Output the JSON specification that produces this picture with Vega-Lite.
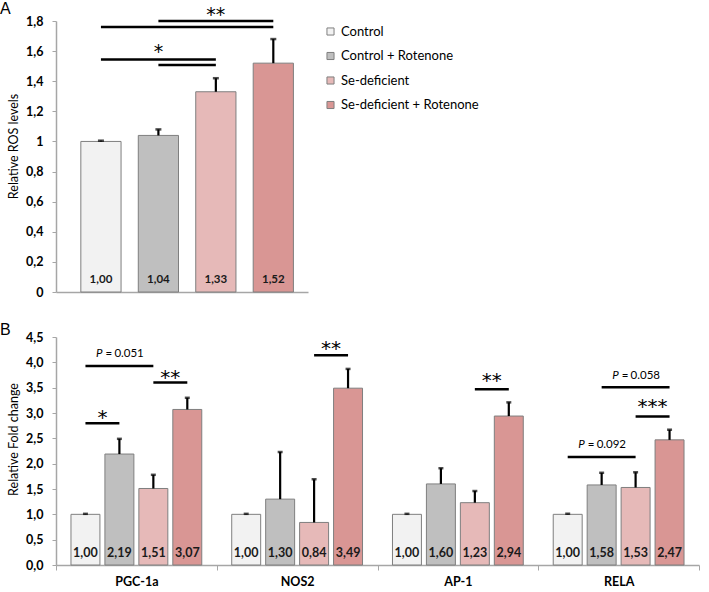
{
  "$schema": "https://vega.github.io/schema/vega-lite/v6.json",
  "padding": {"left": 0, "top": 0, "right": 2, "bottom": 0},
  "spacing": 23,
  "config": {
    "locale": {"number": {"decimal": ",", "thousands": ".", "grouping": [3], "currency": ["", " €"]}},
    "view": {"stroke": null},
    "font": "Lato"
  },
  "datasets": {
    "ros": [
      {"condition": "Control", "value": 1.00, "upper": 1.005},
      {"condition": "Control + Rotenone", "value": 1.04, "upper": 1.08},
      {"condition": "Se-deficient", "value": 1.33, "upper": 1.42},
      {"condition": "Se-deficient + Rotenone", "value": 1.52, "upper": 1.68}
    ],
    "rosSig": [
      {"id": "a1", "condition": "Control", "y": 1.76},
      {"id": "a1", "condition": "Se-deficient + Rotenone", "y": 1.76},
      {"id": "a2", "condition": "Control + Rotenone", "y": 1.80},
      {"id": "a2", "condition": "Se-deficient + Rotenone", "y": 1.80},
      {"id": "a3", "condition": "Control", "y": 1.545},
      {"id": "a3", "condition": "Se-deficient", "y": 1.545},
      {"id": "a4", "condition": "Control + Rotenone", "y": 1.507},
      {"id": "a4", "condition": "Se-deficient", "y": 1.507}
    ],
    "rosStars": [
      {"condition": "Se-deficient", "label": "**", "y": 1.84},
      {"condition": "Control + Rotenone", "label": "*", "y": 1.595}
    ],
    "genes": [
      {"gene": "PGC-1a", "condition": "Control", "value": 1.00, "upper": 1.01},
      {"gene": "PGC-1a", "condition": "Control + Rotenone", "value": 2.19, "upper": 2.49},
      {"gene": "PGC-1a", "condition": "Se-deficient", "value": 1.51, "upper": 1.78},
      {"gene": "PGC-1a", "condition": "Se-deficient + Rotenone", "value": 3.07, "upper": 3.30},
      {"gene": "NOS2", "condition": "Control", "value": 1.00, "upper": 1.01},
      {"gene": "NOS2", "condition": "Control + Rotenone", "value": 1.30, "upper": 2.23},
      {"gene": "NOS2", "condition": "Se-deficient", "value": 0.84, "upper": 1.69},
      {"gene": "NOS2", "condition": "Se-deficient + Rotenone", "value": 3.49, "upper": 3.87},
      {"gene": "AP-1", "condition": "Control", "value": 1.00, "upper": 1.01},
      {"gene": "AP-1", "condition": "Control + Rotenone", "value": 1.60, "upper": 1.91},
      {"gene": "AP-1", "condition": "Se-deficient", "value": 1.23, "upper": 1.46},
      {"gene": "AP-1", "condition": "Se-deficient + Rotenone", "value": 2.94, "upper": 3.21},
      {"gene": "RELA", "condition": "Control", "value": 1.00, "upper": 1.01},
      {"gene": "RELA", "condition": "Control + Rotenone", "value": 1.58, "upper": 1.82},
      {"gene": "RELA", "condition": "Se-deficient", "value": 1.53, "upper": 1.83},
      {"gene": "RELA", "condition": "Se-deficient + Rotenone", "value": 2.47, "upper": 2.67}
    ],
    "geneSig": [
      {"id": "b1", "gene": "PGC-1a", "condition": "Control", "y": 2.80},
      {"id": "b1", "gene": "PGC-1a", "condition": "Control + Rotenone", "y": 2.80},
      {"id": "b2", "gene": "PGC-1a", "condition": "Control", "y": 3.93},
      {"id": "b2", "gene": "PGC-1a", "condition": "Se-deficient", "y": 3.93},
      {"id": "b3", "gene": "PGC-1a", "condition": "Se-deficient", "y": 3.60},
      {"id": "b3", "gene": "PGC-1a", "condition": "Se-deficient + Rotenone", "y": 3.60},
      {"id": "b4", "gene": "NOS2", "condition": "Se-deficient", "y": 4.14},
      {"id": "b4", "gene": "NOS2", "condition": "Se-deficient + Rotenone", "y": 4.14},
      {"id": "b5", "gene": "AP-1", "condition": "Se-deficient", "y": 3.47},
      {"id": "b5", "gene": "AP-1", "condition": "Se-deficient + Rotenone", "y": 3.47},
      {"id": "b6", "gene": "RELA", "condition": "Control", "y": 2.13},
      {"id": "b6", "gene": "RELA", "condition": "Se-deficient", "y": 2.13},
      {"id": "b7", "gene": "RELA", "condition": "Control + Rotenone", "y": 3.51},
      {"id": "b7", "gene": "RELA", "condition": "Se-deficient + Rotenone", "y": 3.51},
      {"id": "b8", "gene": "RELA", "condition": "Se-deficient", "y": 2.93},
      {"id": "b8", "gene": "RELA", "condition": "Se-deficient + Rotenone", "y": 2.93}
    ],
    "geneP": [
      {"gene": "PGC-1a", "condition": "Control + Rotenone", "p": "0.051", "y": 4.16},
      {"gene": "RELA", "condition": "Control + Rotenone", "p": "0.092", "y": 2.37},
      {"gene": "RELA", "condition": "Se-deficient", "p": "0.058", "y": 3.73}
    ],
    "geneStars": [
      {"gene": "PGC-1a", "condition": "Control", "label": "*", "y": 2.90},
      {"gene": "PGC-1a", "condition": "Se-deficient", "label": "**", "y": 3.69},
      {"gene": "NOS2", "condition": "Se-deficient", "label": "**", "y": 4.26},
      {"gene": "AP-1", "condition": "Se-deficient", "label": "**", "y": 3.63},
      {"gene": "RELA", "condition": "Se-deficient", "label": "***", "y": 3.12}
    ]
  },
  "vconcat": [
    {
      "width": 252,
      "height": 271,
      "title": {"text": "A", "anchor": "start", "frame": "group", "dx": -56, "offset": -11, "fontSize": 16, "font": "Liberation Sans", "fontWeight": "normal", "color": "#000"},
      "encoding": {
        "x": {
          "field": "condition", "type": "nominal",
          "scale": {"domain": ["Control", "Control + Rotenone", "Se-deficient", "Se-deficient + Rotenone"], "paddingInner": 0.3, "paddingOuter": 0.343, "align": 0.63},
          "axis": {"title": null, "labels": false, "ticks": false, "domainColor": "#a6a6a6", "domainWidth": 1.5}
        }
      },
      "layer": [
        {
          "data": {"name": "ros"},
          "mark": {"type": "bar", "stroke": "#7f7f7f", "strokeWidth": 1},
          "encoding": {
            "y": {
              "field": "value", "type": "quantitative", "title": "Relative ROS levels",
              "scale": {"domain": [0, 1.8], "nice": false},
              "axis": {"values": [0, 0.2, 0.4, 0.6, 0.8, 1, 1.2, 1.4, 1.6, 1.8], "tickCount": 12, "format": "~g", "grid": false, "labelOverlap": false,
                "labelFont": "Lato", "labelFontSize": 12.5, "labelFontWeight": "bold", "labelColor": "#000", "labelPadding": 9,
                "tickSize": 4, "tickColor": "#a6a6a6", "domainColor": "#a6a6a6", "domainWidth": 1.5,
                "titleFont": "Lato", "titleFontSize": 12.5, "titleFontWeight": "normal", "titleColor": "#000", "titlePadding": 5, "titleY": 125}
            },
            "fill": {
              "field": "condition", "type": "nominal",
              "scale": {"domain": ["Control", "Control + Rotenone", "Se-deficient", "Se-deficient + Rotenone"], "range": ["#f2f2f2", "#bfbfbf", "#e6b9b8", "#d99694"]},
              "legend": {"orient": "none", "legendX": 268, "legendY": 4, "title": null, "symbolType": "square", "symbolSize": 50,
                "symbolStrokeColor": "#7f7f7f", "symbolStrokeWidth": 1, "labelFont": "Lato", "labelFontSize": 13, "labelColor": "#000",
                "rowPadding": 10.5, "labelOffset": 4, "padding": 0}
            }
          }
        },
        {
          "data": {"name": "ros"},
          "mark": {"type": "rule", "color": "#000", "strokeWidth": 2.2},
          "encoding": {"y": {"field": "value", "type": "quantitative", "title": "Relative ROS levels",
            "axis": {"values": [0, 0.2, 0.4, 0.6, 0.8, 1, 1.2, 1.4, 1.6, 1.8], "tickCount": 12, "format": "~g", "labelOverlap": false}}, "y2": {"field": "upper"}}
        },
        {
          "data": {"name": "ros"},
          "mark": {"type": "tick", "orient": "horizontal", "size": 6, "thickness": 2.5, "color": "#000"},
          "encoding": {"y": {"field": "upper", "type": "quantitative", "title": "Relative ROS levels",
            "axis": {"values": [0, 0.2, 0.4, 0.6, 0.8, 1, 1.2, 1.4, 1.6, 1.8], "tickCount": 12, "format": "~g", "labelOverlap": false}}}
        },
        {
          "data": {"name": "ros"},
          "mark": {"type": "text", "baseline": "alphabetic", "dy": -9, "fontSize": 11.5, "fontWeight": "bold", "font": "Lato", "color": "#1a1a1a"},
          "encoding": {"y": {"datum": 0, "axis": {"values": [0, 0.2, 0.4, 0.6, 0.8, 1, 1.2, 1.4, 1.6, 1.8], "tickCount": 12, "format": "~g", "labelOverlap": false}},
            "text": {"field": "value", "type": "quantitative", "format": ".2f"}}
        },
        {
          "data": {"name": "rosSig"},
          "mark": {"type": "line", "color": "#000", "strokeWidth": 2.5},
          "encoding": {"y": {"field": "y", "type": "quantitative", "title": "Relative ROS levels",
            "axis": {"values": [0, 0.2, 0.4, 0.6, 0.8, 1, 1.2, 1.4, 1.6, 1.8], "tickCount": 12, "format": "~g", "labelOverlap": false}}, "detail": {"field": "id"}}
        },
        {
          "data": {"name": "rosStars"},
          "mark": {"type": "text", "baseline": "middle", "fontSize": 19, "font": "DejaVu Sans", "color": "#000"},
          "encoding": {"y": {"field": "y", "type": "quantitative", "title": "Relative ROS levels",
            "axis": {"values": [0, 0.2, 0.4, 0.6, 0.8, 1, 1.2, 1.4, 1.6, 1.8], "tickCount": 12, "format": "~g", "labelOverlap": false}}, "text": {"field": "label"}}
        }
      ]
    },
    {
      "width": 643,
      "height": 228,
      "title": {"text": "B", "anchor": "start", "frame": "group", "dx": -56, "offset": -7, "fontSize": 16, "font": "Liberation Sans", "fontWeight": "normal", "color": "#000"},
      "encoding": {
        "x": {
          "field": "gene", "type": "nominal",
          "scale": {"domain": ["PGC-1a", "NOS2", "AP-1", "RELA"], "paddingInner": 0, "paddingOuter": 0},
          "axis": {"title": null, "labelAngle": 0, "labelFont": "Lato", "labelFontSize": 12.5, "labelFontWeight": "bold", "labelColor": "#000",
            "labelPadding": 5, "tickBand": "extent", "tickSize": 5, "tickColor": "#a6a6a6", "domainColor": "#a6a6a6", "domainWidth": 1.5}
        },
        "xOffset": {
          "field": "condition", "type": "nominal",
          "scale": {"domain": ["Control", "Control + Rotenone", "Se-deficient", "Se-deficient + Rotenone"], "paddingInner": 0.147, "paddingOuter": 0.441}
        }
      },
      "layer": [
        {
          "data": {"name": "genes"},
          "mark": {"type": "bar", "stroke": "#7f7f7f", "strokeWidth": 1},
          "encoding": {
            "y": {
              "field": "value", "type": "quantitative", "title": "Relative Fold change",
              "scale": {"domain": [0, 4.5], "nice": false},
              "axis": {"values": [0, 0.5, 1, 1.5, 2, 2.5, 3, 3.5, 4, 4.5], "tickCount": 12, "format": ".1f", "grid": false, "labelOverlap": false,
                "labelFont": "Lato", "labelFontSize": 12.5, "labelFontWeight": "bold", "labelColor": "#000", "labelPadding": 9,
                "tickSize": 4, "tickColor": "#a6a6a6", "domainColor": "#a6a6a6", "domainWidth": 1.5,
                "titleFont": "Lato", "titleFontSize": 12.5, "titleFontWeight": "normal", "titleColor": "#000", "titlePadding": 5, "titleY": 102}
            },
            "fill": {
              "field": "condition", "type": "nominal",
              "scale": {"domain": ["Control", "Control + Rotenone", "Se-deficient", "Se-deficient + Rotenone"], "range": ["#f2f2f2", "#bfbfbf", "#e6b9b8", "#d99694"]},
              "legend": null
            }
          }
        },
        {
          "data": {"name": "genes"},
          "mark": {"type": "rule", "color": "#000", "strokeWidth": 2.2},
          "encoding": {"y": {"field": "value", "type": "quantitative", "title": "Relative Fold change",
            "axis": {"values": [0, 0.5, 1, 1.5, 2, 2.5, 3, 3.5, 4, 4.5], "tickCount": 12, "format": ".1f", "labelOverlap": false}}, "y2": {"field": "upper"}}
        },
        {
          "data": {"name": "genes"},
          "mark": {"type": "tick", "orient": "horizontal", "size": 5, "thickness": 2.5, "color": "#000"},
          "encoding": {"y": {"field": "upper", "type": "quantitative", "title": "Relative Fold change",
            "axis": {"values": [0, 0.5, 1, 1.5, 2, 2.5, 3, 3.5, 4, 4.5], "tickCount": 12, "format": ".1f", "labelOverlap": false}}}
        },
        {
          "data": {"name": "genes"},
          "mark": {"type": "text", "baseline": "alphabetic", "dy": -8, "fontSize": 12.5, "fontWeight": "bold", "font": "Lato", "color": "#1a1a1a"},
          "encoding": {"y": {"datum": 0, "axis": {"values": [0, 0.5, 1, 1.5, 2, 2.5, 3, 3.5, 4, 4.5], "tickCount": 12, "format": ".1f", "labelOverlap": false}},
            "text": {"field": "value", "type": "quantitative", "format": ".2f"}}
        },
        {
          "data": {"name": "geneSig"},
          "mark": {"type": "line", "color": "#000", "strokeWidth": 2.5},
          "encoding": {"y": {"field": "y", "type": "quantitative", "title": "Relative Fold change",
            "axis": {"values": [0, 0.5, 1, 1.5, 2, 2.5, 3, 3.5, 4, 4.5], "tickCount": 12, "format": ".1f", "labelOverlap": false}}, "detail": {"field": "id"}}
        },
        {
          "data": {"name": "geneP"},
          "mark": {"type": "text", "baseline": "middle", "align": "right", "dx": -17, "fontSize": 11.5, "fontStyle": "italic", "font": "Lato", "color": "#000"},
          "encoding": {"y": {"field": "y", "type": "quantitative", "title": "Relative Fold change",
            "axis": {"values": [0, 0.5, 1, 1.5, 2, 2.5, 3, 3.5, 4, 4.5], "tickCount": 12, "format": ".1f", "labelOverlap": false}}, "text": {"value": "P"}}
        },
        {
          "data": {"name": "geneP"},
          "mark": {"type": "text", "baseline": "middle", "align": "center", "dx": -10.5, "fontSize": 11.5, "font": "Lato", "color": "#000"},
          "encoding": {"y": {"field": "y", "type": "quantitative", "title": "Relative Fold change",
            "axis": {"values": [0, 0.5, 1, 1.5, 2, 2.5, 3, 3.5, 4, 4.5], "tickCount": 12, "format": ".1f", "labelOverlap": false}}, "text": {"value": "="}}
        },
        {
          "data": {"name": "geneP"},
          "mark": {"type": "text", "baseline": "middle", "align": "left", "dx": -5, "fontSize": 11.5, "font": "Lato", "color": "#000"},
          "encoding": {"y": {"field": "y", "type": "quantitative", "title": "Relative Fold change",
            "axis": {"values": [0, 0.5, 1, 1.5, 2, 2.5, 3, 3.5, 4, 4.5], "tickCount": 12, "format": ".1f", "labelOverlap": false}}, "text": {"field": "p"}}
        },
        {
          "data": {"name": "geneStars"},
          "mark": {"type": "text", "baseline": "middle", "dx": 17, "fontSize": 20, "font": "DejaVu Sans", "color": "#000"},
          "encoding": {"y": {"field": "y", "type": "quantitative", "title": "Relative Fold change",
            "axis": {"values": [0, 0.5, 1, 1.5, 2, 2.5, 3, 3.5, 4, 4.5], "tickCount": 12, "format": ".1f", "labelOverlap": false}}, "text": {"field": "label"}}
        }
      ]
    }
  ]
}
